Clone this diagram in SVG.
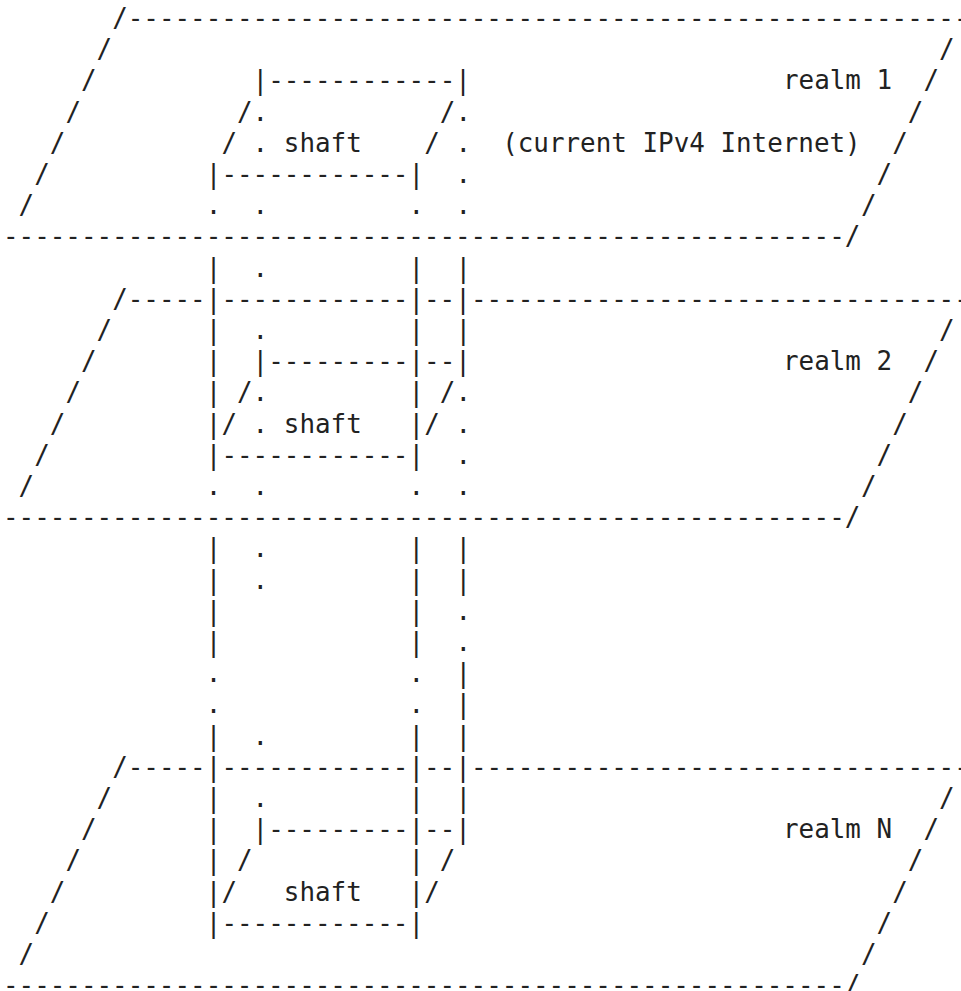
<svg xmlns="http://www.w3.org/2000/svg" width="961" height="991" viewBox="0 0 961 991">
<style>
text { font-family: "DejaVu Sans Mono", "Liberation Mono", monospace; font-size: 25.9px; fill: #222; white-space: pre; }
</style>
<rect width="961" height="991" fill="#fff"/>
<g id="realm-1">
<text x="112.2" y="26.9">/------------------------------------------------------</text>
<text x="96.6" y="58.1">/</text><text x="939" y="58.1">/</text>
<text x="81" y="89.3">/</text><text x="783" y="89.3">realm 1</text><text x="923.4" y="89.3">/</text>
<text x="65.4" y="120.5">/</text><text x="907.8" y="120.5">/</text>
<text x="49.8" y="151.7">/</text><text x="502.2" y="151.7">(current IPv4 Internet)</text><text x="892.2" y="151.7">/</text>
<text x="34.2" y="182.9">/</text><text x="876.6" y="182.9">/</text>
<text x="18.6" y="214.1">/</text><text x="861" y="214.1">/</text>
<text x="3" y="245.3">------------------------------------------------------/</text>
</g>
<g id="shaft-1">
<text x="252.6" y="89.3">|------------|</text>
<text x="237" y="120.5">/.</text><text x="439.8" y="120.5">/.</text>
<text x="221.4" y="151.7">/</text><text x="252.6" y="151.7">.</text><text x="283.8" y="151.7">shaft</text><text x="424.2" y="151.7">/</text><text x="455.4" y="151.7">.</text>
<text x="205.8" y="182.9">|------------|</text><text x="455.4" y="182.9">.</text>
<text x="205.8" y="214.1">.</text><text x="252.6" y="214.1">.</text><text x="408.6" y="214.1">.</text><text x="455.4" y="214.1">.</text>
</g>
<g id="realm-2">
<text x="112.2" y="307.7">/-----</text><text x="471" y="307.7">--------------------------------</text>
<text x="96.6" y="338.9">/</text><text x="939" y="338.9">/</text>
<text x="81" y="370.1">/</text><text x="783" y="370.1">realm 2</text><text x="923.4" y="370.1">/</text>
<text x="65.4" y="401.3">/</text><text x="907.8" y="401.3">/</text>
<text x="49.8" y="432.5">/</text><text x="892.2" y="432.5">/</text>
<text x="34.2" y="463.7">/</text><text x="876.6" y="463.7">/</text>
<text x="18.6" y="494.9">/</text><text x="861" y="494.9">/</text>
<text x="3" y="526.1">------------------------------------------------------/</text>
</g>
<g id="shaft-2">
<text x="205.8" y="307.7">|------------|--|</text>
<text x="205.8" y="338.9">|</text><text x="252.6" y="338.9">.</text><text x="408.6" y="338.9">|</text><text x="455.4" y="338.9">|</text>
<text x="205.8" y="370.1">|</text><text x="252.6" y="370.1">|---------|--|</text>
<text x="205.8" y="401.3">|</text><text x="237" y="401.3">/.</text><text x="408.6" y="401.3">|</text><text x="439.8" y="401.3">/.</text>
<text x="205.8" y="432.5">|/</text><text x="252.6" y="432.5">.</text><text x="283.8" y="432.5">shaft</text><text x="408.6" y="432.5">|/</text><text x="455.4" y="432.5">.</text>
<text x="205.8" y="463.7">|------------|</text><text x="455.4" y="463.7">.</text>
<text x="205.8" y="494.9">.</text><text x="252.6" y="494.9">.</text><text x="408.6" y="494.9">.</text><text x="455.4" y="494.9">.</text>
</g>
<g id="realm-n">
<text x="112.2" y="775.7">/-----</text><text x="471" y="775.7">--------------------------------</text>
<text x="96.6" y="806.9">/</text><text x="939" y="806.9">/</text>
<text x="81" y="838.1">/</text><text x="783" y="838.1">realm N</text><text x="923.4" y="838.1">/</text>
<text x="65.4" y="869.3">/</text><text x="907.8" y="869.3">/</text>
<text x="49.8" y="900.5">/</text><text x="892.2" y="900.5">/</text>
<text x="34.2" y="931.7">/</text><text x="876.6" y="931.7">/</text>
<text x="18.6" y="962.9">/</text><text x="861" y="962.9">/</text>
<text x="3" y="994.1">------------------------------------------------------/</text>
</g>
<g id="shaft-n">
<text x="205.8" y="775.7">|------------|--|</text>
<text x="205.8" y="806.9">|</text><text x="252.6" y="806.9">.</text><text x="408.6" y="806.9">|</text><text x="455.4" y="806.9">|</text>
<text x="205.8" y="838.1">|</text><text x="252.6" y="838.1">|---------|--|</text>
<text x="205.8" y="869.3">|</text><text x="237" y="869.3">/</text><text x="408.6" y="869.3">|</text><text x="439.8" y="869.3">/</text>
<text x="205.8" y="900.5">|/</text><text x="283.8" y="900.5">shaft</text><text x="408.6" y="900.5">|/</text>
<text x="205.8" y="931.7">|------------|</text>
</g>
<g id="connectors">
<text x="205.8" y="276.5">|</text><text x="252.6" y="276.5">.</text><text x="408.6" y="276.5">|</text><text x="455.4" y="276.5">|</text>
<text x="205.8" y="557.3">|</text><text x="252.6" y="557.3">.</text><text x="408.6" y="557.3">|</text><text x="455.4" y="557.3">|</text>
<text x="205.8" y="588.5">|</text><text x="252.6" y="588.5">.</text><text x="408.6" y="588.5">|</text><text x="455.4" y="588.5">|</text>
<text x="205.8" y="619.7">|</text><text x="408.6" y="619.7">|</text><text x="455.4" y="619.7">.</text>
<text x="205.8" y="650.9">|</text><text x="408.6" y="650.9">|</text><text x="455.4" y="650.9">.</text>
<text x="205.8" y="682.1">.</text><text x="408.6" y="682.1">.</text><text x="455.4" y="682.1">|</text>
<text x="205.8" y="713.3">.</text><text x="408.6" y="713.3">.</text><text x="455.4" y="713.3">|</text>
<text x="205.8" y="744.5">|</text><text x="252.6" y="744.5">.</text><text x="408.6" y="744.5">|</text><text x="455.4" y="744.5">|</text>
</g>
</svg>
